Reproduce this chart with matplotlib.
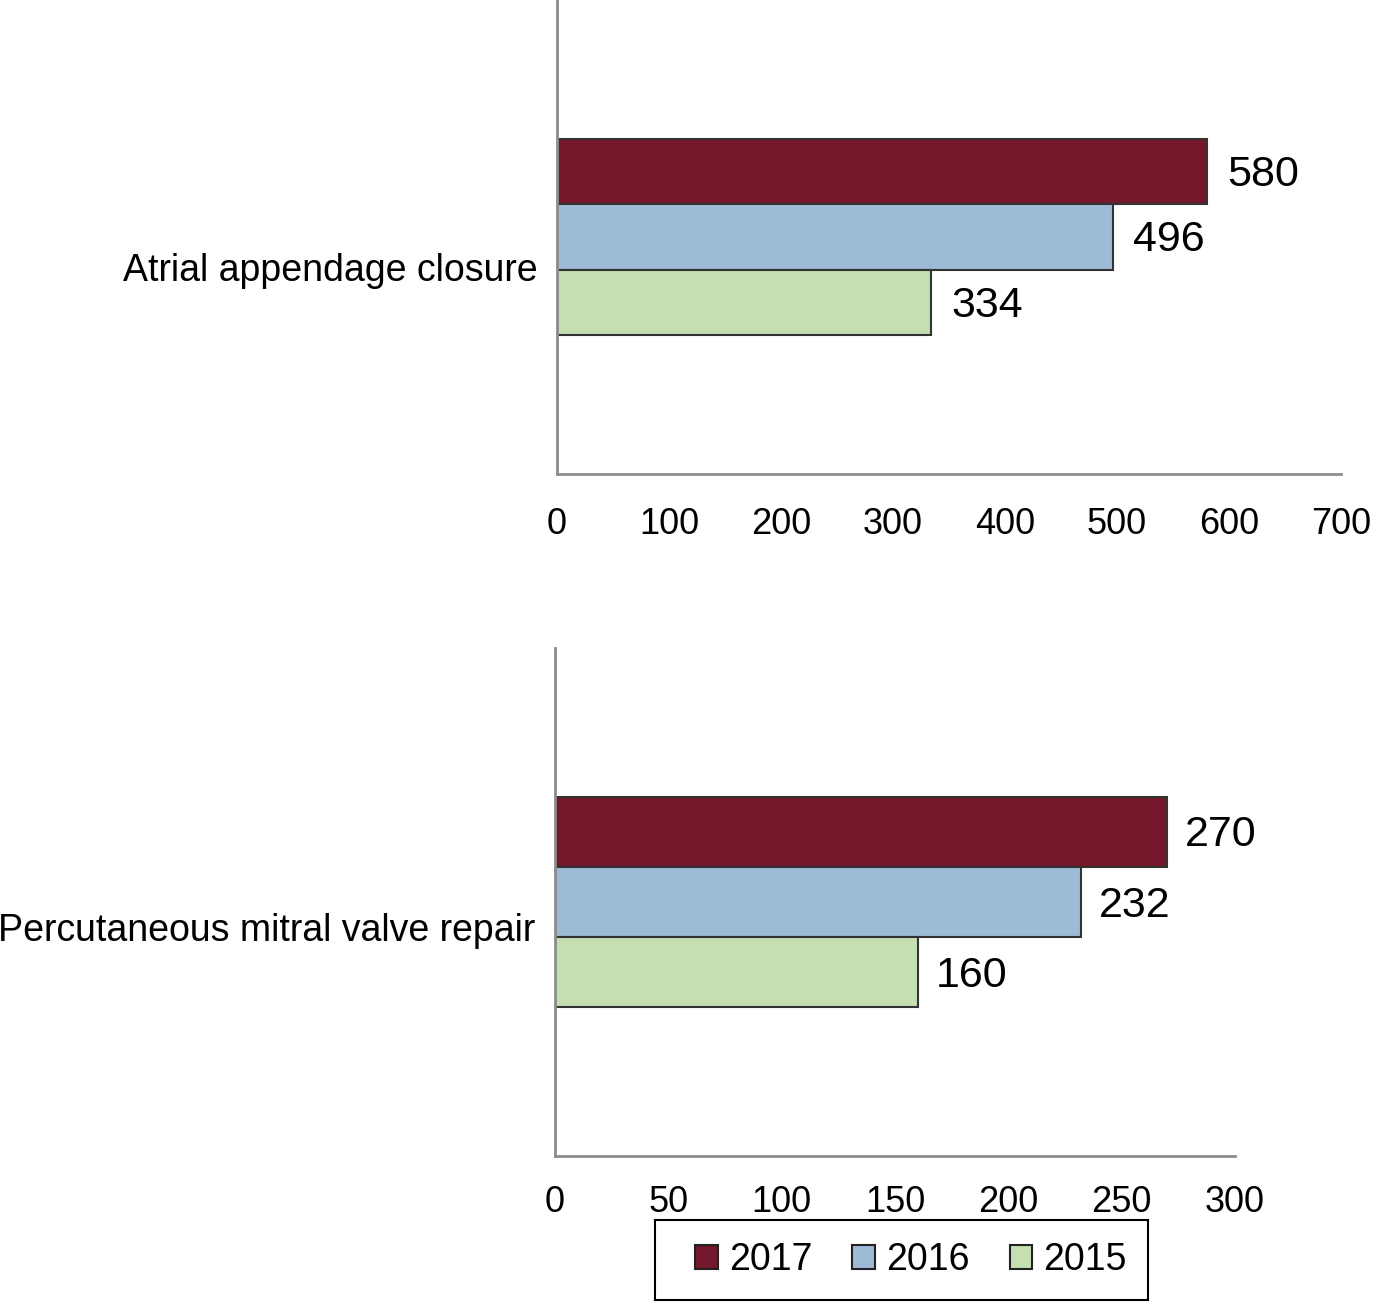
import matplotlib.pyplot as plt
from matplotlib.patches import Patch, Rectangle

plt.rcParams['font.family'] = ['Liberation Sans', 'DejaVu Sans']

years = ['2017', '2016', '2015']
colors = ['#75172A', '#9DBAD6', '#C4DFB0']

laa_values = [580, 496, 334]
mitral_values = [270, 232, 160]

# label, values, x ticks, axes rect, y of category label, x tick pad
panels = [
    ('Atrial appendage closure', laa_values, [0, 100, 200, 300, 400, 500, 600, 700],
     [0.4045, 0.6359, 0.5694, 0.3641], 0.46, 24),
    ('Percutaneous mitral valve repair', mitral_values, [0, 50, 100, 150, 200, 250, 300],
     [0.4030, 0.1121, 0.4939, 0.3902], 0.36, 21),
]

fig = plt.figure(figsize=(13.77, 13.02), dpi=100)

for label, values, ticks, rect, label_y, xpad in panels:
    ax = fig.add_axes(rect)
    pos = [-1, 0, 1]
    ax.barh(pos, values, height=1.0, color=colors, edgecolor='#333333', linewidth=1.5)
    for p, v in zip(pos, values):
        ax.text(v + ticks[-1] * 0.026, p + 0.05, str(v), va='center', ha='left', fontsize=31)
    ax.set_ylim(3.62, -3.62)
    ax.set_xlim(0, ticks[-1])
    ax.set_xticks(ticks)
    ax.set_xticklabels([str(t) for t in ticks], fontsize=26)
    ax.set_yticks([label_y])
    ax.set_yticklabels([label], fontsize=27)
    ax.tick_params(axis='both', length=0)
    ax.tick_params(axis='x', pad=xpad)
    ax.tick_params(axis='y', pad=14)
    for s in ['top', 'right']:
        ax.spines[s].set_visible(False)
    for s in ['left', 'bottom']:
        ax.spines[s].set_color('#8c8c8c')
        ax.spines[s].set_linewidth(2)

# legend box drawn separately so the inner margins can match
W, H = 1377, 1302
fig.patches.append(Rectangle((655 / W, 1 - 1300 / H), 493 / W, 80 / H, transform=fig.transFigure,
                             facecolor='white', edgecolor='black', linewidth=1.5))
handles = [Patch(facecolor=c, edgecolor='#222222', linewidth=1.5) for c in colors]
fig.legend(handles, years, loc='center', bbox_to_anchor=(911 / W, 1 - 1260 / H), ncol=3,
           fontsize=27, frameon=False, handlelength=0.6, handleheight=0.6,
           handletextpad=0.3, columnspacing=1.07, borderpad=0, borderaxespad=0)

fig.savefig('out.png', dpi=100)
